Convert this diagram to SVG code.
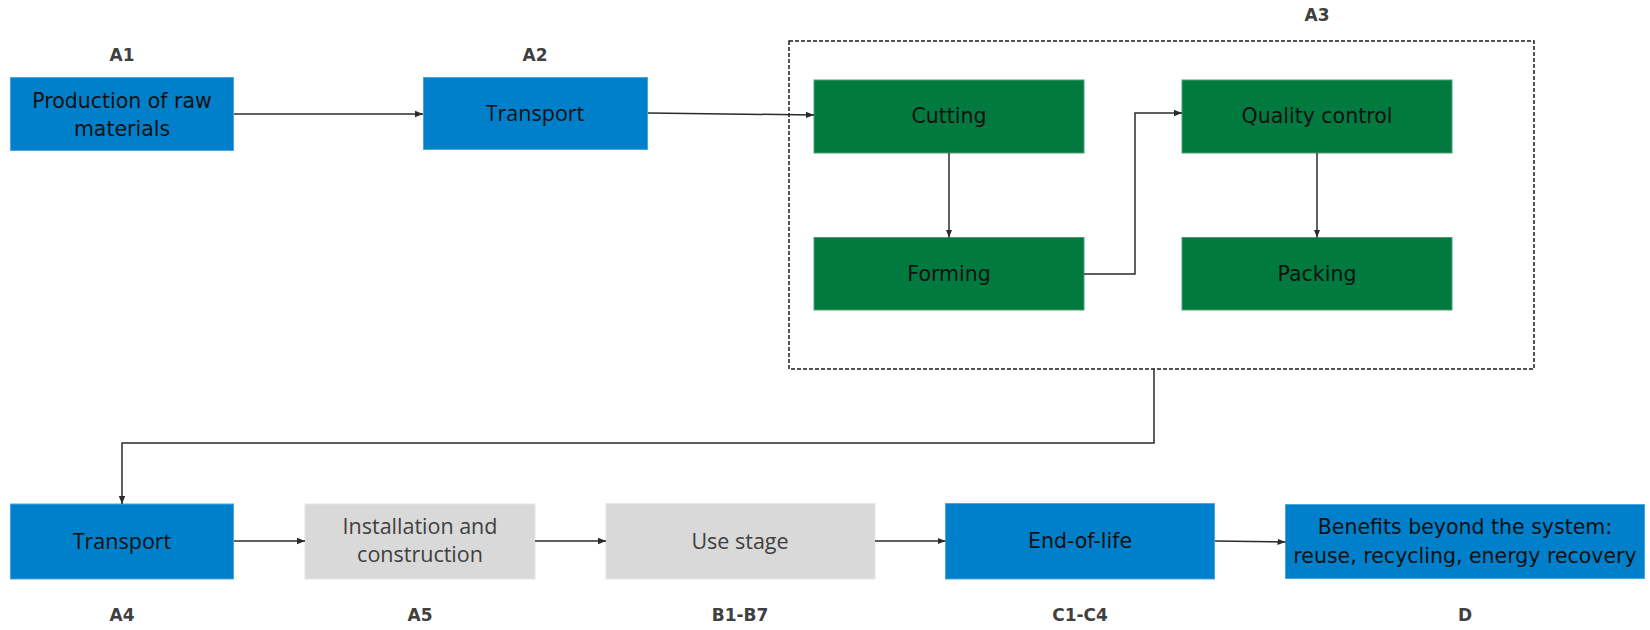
<svg xmlns="http://www.w3.org/2000/svg" width="1650" height="630" viewBox="0 0 1650 630">
<defs>
<marker id="arr" markerUnits="userSpaceOnUse" markerWidth="8" markerHeight="8" viewBox="0 0 8 8" refX="8" refY="4" orient="auto">
<path d="M0,0.8 L8,4 L0,7.2 Z" fill="#2b2b2b"/>
</marker>
<style>
.blue{fill:#0080CA;stroke:#4aa6e0;stroke-width:1}
.green{fill:#017A3F;stroke:#4f9f73;stroke-width:1}
.gray{fill:#D9D9D9;stroke:#e6e6e6;stroke-width:1}
.m{font-family:"DejaVu Sans","Noto Sans",sans-serif;font-size:20.5px;fill:#111;text-anchor:middle}
.s{font-family:"Open Sans","Noto Sans",sans-serif;font-size:21.5px;fill:#111;text-anchor:middle}
.sg{font-family:"Open Sans","Noto Sans",sans-serif;font-size:21.5px;fill:#404040;text-anchor:middle}
.lbl{font-family:"DejaVu Sans","Noto Sans",sans-serif;font-size:17px;font-weight:bold;fill:#404040;text-anchor:middle}
.c{fill:none;stroke:#2b2b2b;stroke-width:1.5}
</style>
</defs>
<rect width="1650" height="630" fill="#ffffff"/>

<g id="A3-group">
<rect x="789" y="41" width="745" height="328" fill="none" stroke="#1a1a1a" stroke-width="1.5" stroke-dasharray="4 2"/>
<text class="lbl" x="1317" y="21">A3</text>
</g>

<g id="A1">
<text class="lbl" x="122" y="61">A1</text>
<rect class="blue" x="10.5" y="77.5" width="223" height="73"/>
<text class="m" x="122" y="108">Production of raw</text>
<text class="m" x="122" y="136">materials</text>
</g>

<g id="A2">
<text class="lbl" x="535" y="61">A2</text>
<rect class="blue" x="423.5" y="77.5" width="224" height="72"/>
<text class="s" x="535" y="121">Transport</text>
</g>

<g id="cutting">
<rect class="green" x="814" y="80" width="270" height="73"/>
<text class="m" x="949" y="123">Cutting</text>
</g>

<g id="quality">
<rect class="green" x="1182" y="80" width="270" height="73"/>
<text class="m" x="1317" y="123">Quality control</text>
</g>

<g id="forming">
<rect class="green" x="814" y="237.5" width="270" height="72.5"/>
<text class="m" x="949" y="281">Forming</text>
</g>

<g id="packing">
<rect class="green" x="1182" y="237.5" width="270" height="72.5"/>
<text class="m" x="1317" y="281">Packing</text>
</g>

<g id="A4">
<rect class="blue" x="10.5" y="504" width="223" height="75"/>
<text class="s" x="122" y="549">Transport</text>
<text class="lbl" x="122" y="621">A4</text>
</g>

<g id="A5">
<rect class="gray" x="305" y="504" width="230" height="75"/>
<text class="sg" x="420" y="534">Installation and</text>
<text class="sg" x="420" y="562">construction</text>
<text class="lbl" x="420" y="621">A5</text>
</g>

<g id="B">
<rect class="gray" x="606" y="503.5" width="269" height="75.5"/>
<text class="sg" x="740" y="549">Use stage</text>
<text class="lbl" x="740" y="621">B1-B7</text>
</g>

<g id="C">
<rect class="blue" x="945.5" y="503.5" width="269" height="75.5"/>
<text class="m" x="1080" y="548">End-of-life</text>
<text class="lbl" x="1080" y="621">C1-C4</text>
</g>

<g id="D">
<rect class="blue" x="1285.5" y="504.5" width="359" height="74"/>
<text class="m" x="1465" y="534">Benefits beyond the system:</text>
<text class="m" x="1465" y="563">reuse, recycling, energy recovery</text>
<text class="lbl" x="1465" y="621">D</text>
</g>

<g id="connectors">
<line class="c" x1="234" y1="114" x2="423" y2="114" marker-end="url(#arr)"/>
<line class="c" x1="648" y1="113" x2="814" y2="115" marker-end="url(#arr)"/>
<line class="c" x1="949" y1="153" x2="949" y2="237.5" marker-end="url(#arr)"/>
<polyline class="c" points="1084,274 1135,274 1135,113 1182,113" marker-end="url(#arr)"/>
<line class="c" x1="1317" y1="153" x2="1317" y2="237.5" marker-end="url(#arr)"/>
<polyline class="c" points="1154,369 1154,443 122,443 122,504" marker-end="url(#arr)"/>
<line class="c" x1="234" y1="541" x2="305" y2="541" marker-end="url(#arr)"/>
<line class="c" x1="535" y1="541" x2="606" y2="541" marker-end="url(#arr)"/>
<line class="c" x1="875" y1="541" x2="945.5" y2="541" marker-end="url(#arr)"/>
<line class="c" x1="1215" y1="541" x2="1285.5" y2="542" marker-end="url(#arr)"/>
</g>
</svg>
